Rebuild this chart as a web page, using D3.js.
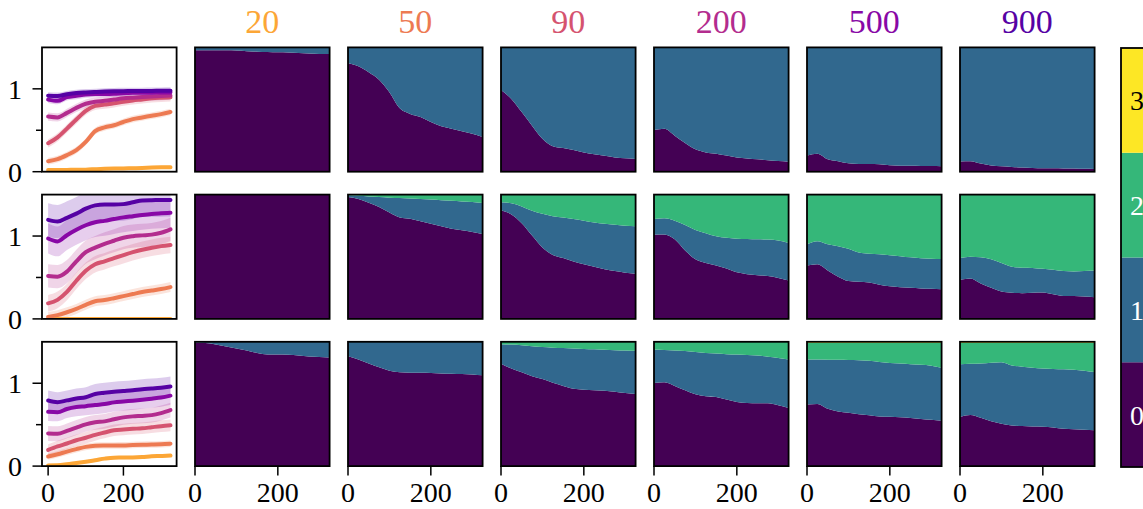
<!DOCTYPE html>
<html>
<head>
<meta charset="utf-8">
<script src="https://cdn.jsdelivr.net/npm/d3@7"></script>
<style>
  body { margin: 0; background: #fff; }
  svg { display: block; }
  text { font-family: "Liberation Serif", "DejaVu Serif", serif; }
</style>
</head>
<body>
<svg id="fig" width="1143" height="509"></svg>
<script>
// Time steps shared by every panel
const steps = [0, 25, 50, 75, 100, 125, 150, 175, 200, 225, 250, 275, 300, 325];
// Population sizes, one column each
const sizes = [20, 50, 90, 200, 500, 900];
const classLabels = ["0", "1", "2", "3"];
const yTickValues = [0, 0.5, 1];
const yTickLabels = ["0", "", "1"];
const xTickValues = [0, 200];

// Top row: cumulative share of class 0 (the rest is class 1)
const topClass0 = [
  [.978, .978, .978, .977, .975, .970, .965, .962, .960, .958, .955, .950, .947, .946],
  [.873, .848, .800, .740, .640, .510, .465, .440, .400, .365, .345, .325, .305, .280],
  [.657, .585, .480, .370, .265, .205, .190, .175, .155, .140, .128, .115, .108, .103],
  [.335, .345, .290, .230, .180, .155, .145, .130, .115, .107, .100, .093, .087, .081],
  [.130, .145, .100, .085, .068, .062, .062, .060, .052, .048, .047, .046, .045, .043],
  [.082, .085, .065, .050, .043, .038, .033, .030, .028, .027, .026, .025, .023, .022]
];

// Middle row: cumulative shares of class 0 and classes 0-1 (the rest is class 2)
const midClass0 = [
  [1, 1, 1, 1, 1, 1, 1, 1, 1, 1, 1, 1, 1, 1],
  [.981, .965, .935, .900, .855, .815, .805, .785, .765, .745, .725, .713, .700, .683],
  [.874, .840, .770, .670, .575, .515, .490, .462, .440, .420, .400, .385, .372, .363],
  [.677, .680, .640, .550, .480, .450, .430, .405, .375, .360, .352, .345, .330, .309],
  [.430, .440, .390, .340, .305, .298, .292, .275, .262, .255, .250, .245, .242, .239],
  [.315, .325, .285, .250, .220, .210, .207, .210, .212, .198, .185, .185, .180, .175]
];
const midClass01 = [
  [1, 1, 1, 1, 1, 1, 1, 1, 1, 1, 1, 1, 1, 1],
  [.995, .990, .985, .980, .975, .972, .968, .965, .960, .955, .950, .945, .940, .933],
  [.938, .930, .905, .870, .845, .825, .815, .804, .790, .775, .765, .757, .750, .745],
  [.804, .810, .790, .755, .715, .690, .665, .652, .645, .642, .640, .638, .630, .610],
  [.600, .625, .600, .585, .565, .535, .525, .520, .513, .505, .495, .488, .484, .481],
  [.490, .500, .495, .480, .450, .420, .412, .410, .403, .395, .385, .382, .386, .390]
];

// Bottom row: cumulative shares of class 0, classes 0-1 and classes 0-2 (the rest is class 3)
const botClass0 = [
  [.992, .990, .978, .962, .947, .930, .910, .898, .897, .895, .890, .882, .878, .873],
  [.884, .857, .825, .795, .768, .755, .752, .751, .750, .745, .742, .740, .737, .730],
  [.824, .785, .755, .723, .700, .670, .645, .622, .615, .610, .607, .598, .588, .581],
  [.668, .675, .645, .610, .578, .562, .555, .535, .515, .507, .505, .505, .490, .468],
  [.495, .500, .462, .440, .430, .418, .410, .400, .397, .392, .386, .378, .372, .365],
  [.397, .412, .388, .360, .340, .327, .322, .318, .316, .310, .300, .296, .293, .289]
];
const botClass01 = [
  [1, 1, 1, 1, 1, 1, 1, 1, 1, 1, 1, 1, 1, 1],
  [1, 1, 1, 1, 1, 1, 1, 1, 1, 1, 1, 1, 1, 1],
  [.981, .978, .972, .965, .958, .953, .950, .946, .943, .940, .937, .933, .930, .927],
  [.938, .935, .930, .925, .918, .910, .905, .900, .897, .893, .889, .880, .870, .857],
  [.857, .857, .856, .855, .854, .852, .848, .838, .830, .825, .820, .815, .808, .792],
  [.819, .823, .826, .832, .836, .810, .800, .792, .785, .782, .779, .775, .768, .757]
];
const botClass012 = [
  [1, 1, 1, 1, 1, 1, 1, 1, 1, 1, 1, 1, 1, 1],
  [1, 1, 1, 1, 1, 1, 1, 1, 1, 1, 1, 1, 1, 1],
  [1, 1, 1, 1, 1, 1, 1, 1, 1, 1, 1, 1, 1, 1],
  [1, 1, 1, 1, 1, 1, 1, 1, 1, 1, 1, 1, 1, 1],
  [.993, .993, .993, .993, .993, .993, .993, .993, .993, .993, .993, .993, .993, .993],
  [.993, .993, .993, .993, .993, .993, .993, .993, .993, .993, .993, .993, .993, .993]
];

// Half-width of the faint run-to-run band around each mean curve
const topSpread = [0.02, 0.04, 0.05, 0.05, 0.04, 0.04];
const midSpread = [0.00, 0.06, 0.10, 0.14, 0.18, 0.20];
const botSpread = [0.02, 0.04, 0.07, 0.09, 0.11, 0.12];

const ones = steps.map(() => 1);
const rows = [
  { cum: topClass0.map(c0 => [c0, ones, ones]), spread: topSpread },
  { cum: midClass0.map((c0, j) => [c0, midClass01[j], ones]), spread: midSpread },
  { cum: botClass0.map((c0, j) => [c0, botClass01[j], botClass012[j]]), spread: botSpread }
];

// ---- layout ----
const colX0 = 42, colStep = 153, panelW = 134.6;
const rowY0 = 47.4, rowStep = 147.2, panelH = 124.3;
const tickFont = 28, titleFont = 34;
const xLabelBaseline = 502;
const classColor = k => d3.interpolateViridis(k / 3);
const sizeColor = i => d3.interpolatePlasma(0.8 - i * 0.13);

const svg = d3.select("#fig");
const defs = svg.append("defs");

function bottomTicks(g, x, bottom) {
  xTickValues.forEach(v => {
    g.append("line").attr("x1", x(v)).attr("x2", x(v)).attr("y1", bottom).attr("y2", bottom + 9.5)
      .attr("stroke", "#000").attr("stroke-width", 1.5);
    g.append("text").attr("x", x(v)).attr("y", xLabelBaseline).attr("text-anchor", "middle")
      .attr("font-size", tickFont).text(v);
  });
}

rows.forEach((row, r) => {
  const top = rowY0 + r * rowStep;
  const bottom = top + panelH;
  const isLast = r === rows.length - 1;

  // ---- column 1: mean class over time for every size ----
  {
    const left = colX0;
    const x = d3.scaleLinear([-16.25, 341.25], [left, left + panelW]);
    const y = d3.scaleLinear([0, 1.5], [bottom, top]);
    const g = svg.append("g");
    const clipId = "clip" + r;
    defs.append("clipPath").attr("id", clipId)
      .append("rect").attr("x", left).attr("y", top).attr("width", panelW).attr("height", panelH);
    const plot = g.append("g").attr("clip-path", `url(#${clipId})`);

    const means = row.cum.map(cum =>
      steps.map((t, i) => ({ t, m: cum.reduce((s, c) => s + (1 - c[i]), 0) })));

    means.forEach((series, j) => {
      const s = row.spread[j];
      if (s > 0) {
        plot.append("path")
          .attr("d", d3.area().curve(d3.curveMonotoneX)
            .x(d => x(d.t)).y0(d => y(d.m - s)).y1(d => y(d.m + s))(series))
          .attr("fill", sizeColor(j)).attr("fill-opacity", 0.2);
      }
    });
    means.forEach((series, j) => {
      plot.append("path")
        .attr("d", d3.line().curve(d3.curveMonotoneX).x(d => x(d.t)).y(d => y(d.m))(series))
        .attr("fill", "none").attr("stroke", sizeColor(j))
        .attr("stroke-width", 4).attr("stroke-linecap", "round").attr("stroke-linejoin", "round");
    });

    // y axis
    yTickValues.forEach((v, k) => {
      const len = yTickLabels[k] ? 9.5 : 6;
      g.append("line").attr("x1", left - len).attr("x2", left)
        .attr("y1", y(v)).attr("y2", y(v)).attr("stroke", "#000").attr("stroke-width", 1.5);
      if (yTickLabels[k]) {
        g.append("text").attr("x", left - 20).attr("y", y(v) + 10)
          .attr("text-anchor", "end").attr("font-size", tickFont).text(yTickLabels[k]);
      }
    });
    if (isLast) bottomTicks(g, x, bottom);
    g.append("rect").attr("x", left).attr("y", top).attr("width", panelW).attr("height", panelH)
      .attr("fill", "none").attr("stroke", "#000").attr("stroke-width", 1.8);
  }

  // ---- columns 2-7: stacked class shares ----
  row.cum.forEach((cum, j) => {
    const left = colX0 + (j + 1) * colStep;
    const x = d3.scaleLinear([0, 325], [left, left + panelW]);
    const y = d3.scaleLinear([0, 1], [bottom, top]);
    const g = svg.append("g");
    for (let k = 0; k < 4; k++) {
      const lo = i => (k === 0 ? 0 : cum[k - 1][i]);
      const hi = i => (k === 3 ? 1 : cum[k][i]);
      g.append("path")
        .attr("d", d3.area().curve(d3.curveMonotoneX)
          .x(i => x(steps[i])).y0(i => y(lo(i))).y1(i => y(hi(i)))(d3.range(steps.length)))
        .attr("fill", classColor(k));
    }
    if (isLast) bottomTicks(g, x, bottom);
    g.append("rect").attr("x", left).attr("y", top).attr("width", panelW).attr("height", panelH)
      .attr("fill", "none").attr("stroke", "#000").attr("stroke-width", 1.8);
    if (r === 0) {
      svg.append("text").attr("x", left + panelW / 2).attr("y", 33).attr("text-anchor", "middle")
        .attr("font-size", titleFont).attr("fill", sizeColor(j)).text(sizes[j]);
    }
  });
});

// ---- discrete colour bar for the classes ----
{
  const cbX = 1121, cbTop = 48, cbBottom = 467;
  const y = d3.scaleLinear([0, 4], [cbBottom, cbTop]);
  const g = svg.append("g");
  classLabels.forEach((lab, k) => {
    g.append("rect").attr("x", cbX).attr("y", y(k + 1)).attr("width", 40)
      .attr("height", y(k) - y(k + 1)).attr("fill", classColor(k));
    g.append("text").attr("x", cbX + 9).attr("y", (y(k) + y(k + 1)) / 2 + 10)
      .attr("font-size", tickFont).attr("fill", k === 3 ? "#000" : "#fff").text(lab);
  });
  g.append("rect").attr("x", cbX).attr("y", cbTop).attr("width", 40).attr("height", cbBottom - cbTop)
    .attr("fill", "none").attr("stroke", "#000").attr("stroke-width", 1.8);
}
</script>
</body>
</html>
